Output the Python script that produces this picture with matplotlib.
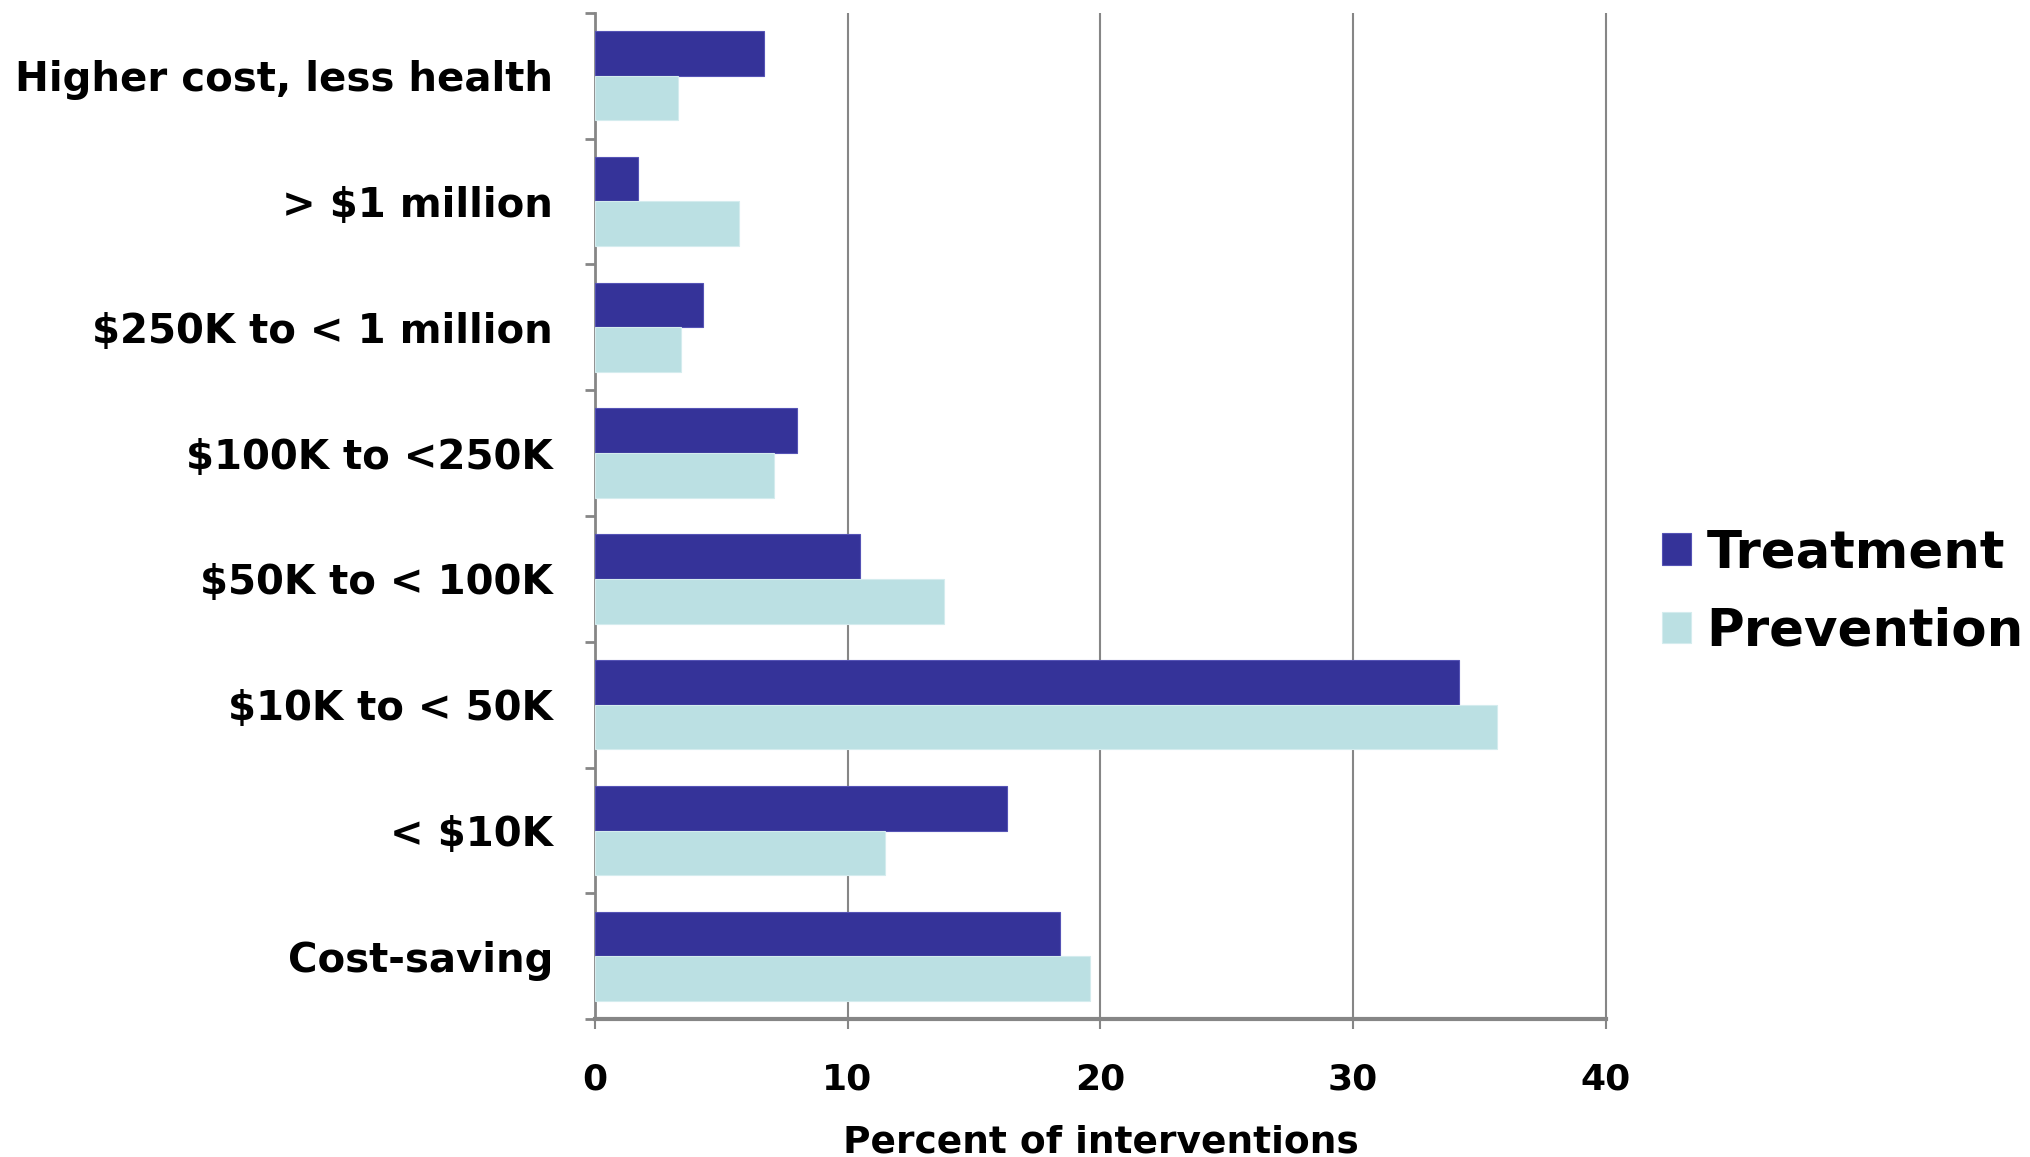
import matplotlib
matplotlib.use('Agg')
import matplotlib.pyplot as plt
import numpy as np

# categories from bottom to top
categories = ['Cost-saving', '< $10K', '$10K to < 50K', '$50K to < 100K',
              '$100K to <250K', '$250K to < 1 million', '> $1 million',
              'Higher cost, less health']
treatment = [18.4, 16.3, 34.2, 10.5, 8.0, 4.3, 1.7, 6.7]
prevention = [19.6, 11.5, 35.7, 13.8, 7.1, 3.4, 5.7, 3.3]
xticks = [0, 10, 20, 30, 40]

C_TREAT = '#353399'
C_PREV = '#bbe0e3'
GRAY = '#868686'

fig = plt.figure(figsize=(20.3, 11.57), dpi=100)
ax = fig.add_axes([0.293, 0.119, 0.499, 0.870])

y = np.arange(len(categories))
h = 0.355
ax.barh(y + h / 2, treatment, height=h, color=C_TREAT, edgecolor='#5553b5',
        linewidth=0.8, label='Treatment', zorder=3)
ax.barh(y - h / 2, prevention, height=h, color=C_PREV, edgecolor='#d4ecee',
        linewidth=0.8, label='Prevention', zorder=3)

ax.set_xlim(0, 40.08)
ax.set_ylim(-0.5, len(categories) - 0.5)

for s in ['top', 'right']:
    ax.spines[s].set_visible(False)
ax.spines['left'].set_color(GRAY)
ax.spines['left'].set_linewidth(2)
ax.spines['bottom'].set_color(GRAY)
ax.spines['bottom'].set_linewidth(3)
ax.spines['bottom'].set_bounds(0, 40)

ax.set_xticks(xticks)
ax.set_xticklabels([str(t) for t in xticks])
ax.xaxis.grid(True, color=GRAY, linewidth=1.5, zorder=0)
ax.tick_params(axis='x', direction='out', length=7, width=1.5, color=GRAY, pad=24)
for lbl in ax.get_xticklabels():
    lbl.set_fontweight('bold')
    lbl.set_fontsize(26)

ax.set_yticks(y)
ax.set_yticklabels(categories, fontsize=29, fontweight='bold')
ax.set_yticks(np.arange(-0.5, len(categories), 1), minor=True)
ax.tick_params(axis='y', which='major', length=0, pad=30)
ax.tick_params(axis='y', which='minor', direction='out', length=7, width=2,
               color=GRAY)

ax.set_xlabel('Percent of interventions', fontsize=27, fontweight='bold',
              labelpad=20)

fig.legend(loc='center left', bbox_to_anchor=(0.8187, 0.488),
           frameon=False, prop={'weight': 'bold', 'size': 37},
           handlelength=0.57, handleheight=0.57, handletextpad=0.3,
           labelspacing=0.55, borderpad=0, borderaxespad=0)

fig.savefig('out.png', dpi=100, facecolor='white')
